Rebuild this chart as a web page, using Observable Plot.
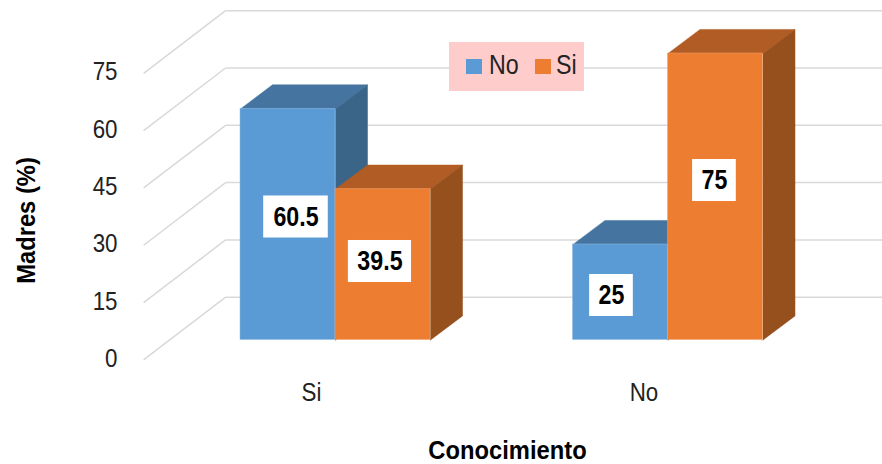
<!DOCTYPE html>
<html>
<head>
<meta charset="utf-8">
<script src="https://cdn.jsdelivr.net/npm/d3@7"></script>
<script src="https://cdn.jsdelivr.net/npm/@observablehq/plot@0.6"></script>
<style>
  html, body { margin: 0; padding: 0; background: #fff; }
  #chart { position: relative; width: 882px; height: 464px; overflow: hidden; }
  #chart svg { display: block; }
  .legend { position: absolute; left: 449px; top: 42px; width: 135px; height: 49px; background: #ffcccc;
            font: 27px "Liberation Sans", sans-serif; color: #222; }
  .legend i { position: absolute; top: 17px; width: 15.5px; height: 15px; }
  .legend span { position: absolute; top: 9px; line-height: 29px; transform: scaleX(0.86); transform-origin: left center; }
</style>
</head>
<body>
<div id="chart"></div>
<script>
// Knowledge among mothers, percentages per answer group
const categories = ["Si", "No"];
const seriesNames = ["No", "Si"];
const noValues = [60.5, 25];
const siValues = [39.5, 75];
const yTicks = [0, 15, 30, 45, 60, 75];

const faceColors = {
  No: {front: "#5b9bd5", top: "#44749f", side: "#3a6488", edge: "#8fbbe3"},
  Si: {front: "#ed7d31", top: "#b15c24", side: "#96501d", edge: "#f2a26e"}
};

// Drawing geometry, in axis units: one bar is one x unit wide
const groupStart = [0, 3.5];
const barDepth = {x: 0.337, y: 6.3};
const wallDepth = {x: 0.863, y: 16.4};
const floorFront = {x: -1.02, y: -5.2};
const wallRight = 6.76;

// Value boxes are placed by hand on the bar faces
const labelAt = [
  {x: 0.584, y: 32.2, w: 0.68},
  {x: 3.905, y: 11.65, w: 0.46},
  {x: 1.468, y: 20.55, w: 0.665},
  {x: 4.989, y: 41.75, w: 0.46}
];
const boxHeight = 11;

const bars = [];
categories.forEach((c, i) => {
  bars.push({category: c, series: "No", value: noValues[i], x0: groupStart[i]});
  bars.push({category: c, series: "Si", value: siValues[i], x0: groupStart[i] + 1});
});

const labels = [
  {value: noValues[0], ...labelAt[0]},
  {value: noValues[1], ...labelAt[1]},
  {value: siValues[0], ...labelAt[2]},
  {value: siValues[1], ...labelAt[3]}
];

// Each bar: top and side polygons first, then the front face
const barMarks = bars.flatMap((b) => {
  const c = faceColors[b.series];
  const x1 = b.x0 + 1;
  const dx = barDepth.x, dy = barDepth.y;
  const top = [[b.x0, b.value], [x1, b.value], [x1 + dx, b.value + dy], [b.x0 + dx, b.value + dy], [b.x0, b.value]];
  const side = [[x1, 0], [x1 + dx, dy], [x1 + dx, b.value + dy], [x1, b.value], [x1, 0]];
  return [
    Plot.line(top, {x: "0", y: "1", fill: c.top, stroke: c.top, strokeWidth: 0.5, curve: "linear"}),
    Plot.line(side, {x: "0", y: "1", fill: c.side, stroke: c.side, strokeWidth: 0.5, curve: "linear"}),
    Plot.rect([b], {x1: "x0", x2: (d) => d.x0 + 1, y1: 0, y2: "value", fill: c.front, stroke: c.edge, strokeWidth: 0.5})
  ];
});

const wallY = (v) => v + wallDepth.y + floorFront.y;
const wallX = floorFront.x + wallDepth.x;
const sans = "'Liberation Sans', sans-serif";

const plot = Plot.plot({
  width: 882,
  height: 464,
  marginLeft: 120,
  marginRight: 0,
  marginTop: 0,
  marginBottom: 84,
  style: {background: "transparent", fontFamily: sans, color: "#222"},
  x: {type: "linear", domain: [0, 5.5], range: [240, 762.5]},
  y: {type: "linear", domain: [0, 75], range: [339.5, 53]},
  marks: [
    // Floor and wall gridlines
    Plot.link(yTicks, {
      x1: floorFront.x, x2: wallX,
      y1: (v) => v + floorFront.y, y2: wallY,
      stroke: "#d9d9d9", strokeWidth: 1.5
    }),
    Plot.link(yTicks, {
      x1: wallX, x2: wallRight,
      y1: wallY, y2: wallY,
      stroke: "#d9d9d9", strokeWidth: 1.5
    }),
    ...barMarks,
    // White value boxes
    Plot.rect(labels, {
      x1: (d) => d.x - d.w / 2, x2: (d) => d.x + d.w / 2,
      y1: (d) => d.y - boxHeight / 2, y2: (d) => d.y + boxHeight / 2,
      fill: "white"
    }),
    Plot.text(labels, {
      x: "x", y: "y", text: (d) => String(d.value),
      fontSize: 27, fontWeight: "bold", fill: "#000"
    }),
    Plot.axisY(yTicks, {
      anchor: "left", tickSize: 0, tickPadding: 3, dy: 18.5,
      fontSize: 26, label: null, tickFormat: (d) => String(d), fill: "#222"
    }),
    Plot.axisX([groupStart[0] + 1, groupStart[1] + 1], {
      anchor: "bottom", tickSize: 0, tickPadding: 0, dx: -24, dy: 2,
      fontSize: 26, label: null, tickFormat: (d, i) => categories[i], fill: "#222"
    }),
    // Axis titles
    Plot.text(["Madres (%)"], {
      frameAnchor: "top-left", textAnchor: "middle", lineAnchor: "middle",
      dx: -94, dy: 220, rotate: -90,
      fontSize: 25, fontWeight: "bold", fill: "#000", className: "wide-title"
    }),
    Plot.text(["Conocimiento"], {
      frameAnchor: "top-left", textAnchor: "middle", lineAnchor: "middle",
      dx: 387, dy: 450,
      fontSize: 25, fontWeight: "bold", fill: "#000", className: "wide-title"
    })
  ]
});

// Most lettering is narrower than the regular face: squeeze each label along its own baseline
d3.select(plot).selectAll("text").each(function () {
  const t = this.getAttribute("transform") || "";
  const title = this.closest(".wide-title") !== null;
  this.setAttribute("transform", `${t} scale(${title ? 0.95 : 0.86},1)`.trim());
});

const chart = document.getElementById("chart");
chart.appendChild(plot);

// Series key on its pink panel
const legend = document.createElement("div");
legend.className = "legend";
const keyLeft = [17, 86];
const textLeft = [40, 107];
seriesNames.forEach((name, i) => {
  const swatch = document.createElement("i");
  swatch.style.left = keyLeft[i] + "px";
  swatch.style.background = faceColors[name].front;
  const label = document.createElement("span");
  label.style.left = textLeft[i] + "px";
  label.textContent = name;
  legend.append(swatch, label);
});
chart.appendChild(legend);
</script>
</body>
</html>
